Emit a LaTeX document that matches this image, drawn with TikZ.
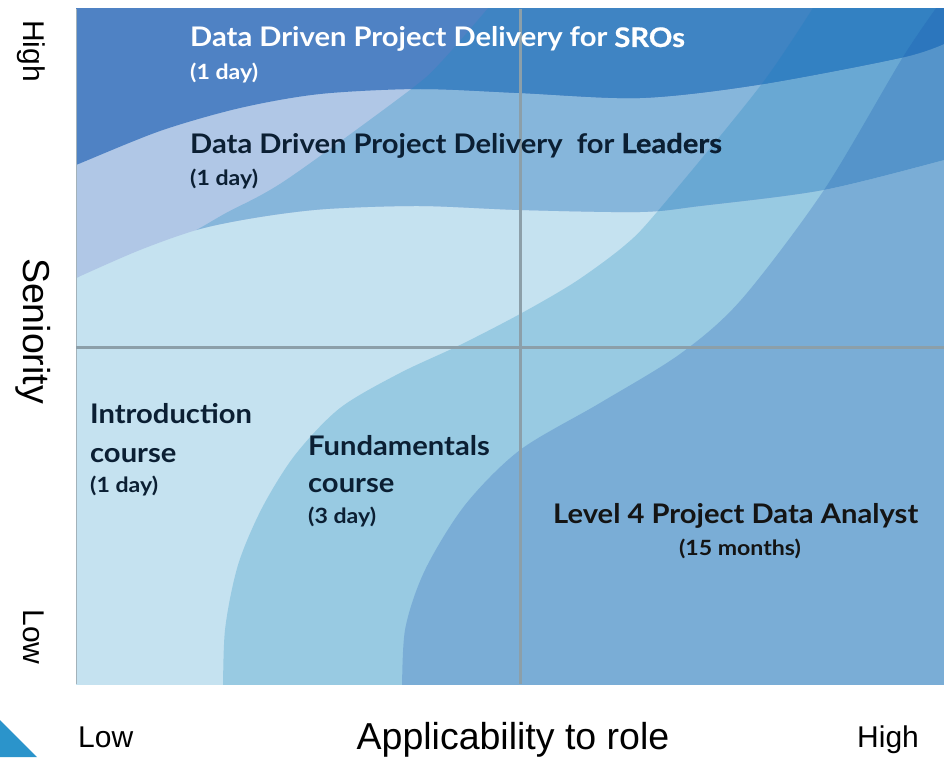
\documentclass[tikz,border=0pt]{standalone}
\usepackage{fontspec}
\setmainfont{Liberation Sans}
\newfontfamily\cf{Lato}[FakeStretch=1.08]
\newfontfamily\cfd{Lato}[FakeStretch=1.1]
\definecolor{cIntro}{HTML}{C5E2F0}
\definecolor{cFund}{HTML}{98CAE2}
\definecolor{cLev}{HTML}{7AADD6}
\definecolor{cLa}{HTML}{B0C7E6}
\definecolor{cLb}{HTML}{86B6DB}
\definecolor{cLc}{HTML}{69A8D3}
\definecolor{cLd}{HTML}{5594CA}
\definecolor{cSa}{HTML}{4F82C4}
\definecolor{cSb}{HTML}{3F84C3}
\definecolor{cSc}{HTML}{3381C2}
\definecolor{cSd}{HTML}{2C76BD}
\definecolor{cGrid}{HTML}{8C9FA9}
\definecolor{cTxt}{HTML}{0B1F33}
\definecolor{cTri}{HTML}{2B94CB}
\newcommand\RBpath{plot[smooth] coordinates {(70,281) (76,278) (176,240) (226,213) (286,180) (410,90) (443,60) (495,0)} -- (950,0) -- (950,700) -- (70,700) -- cycle}
\newcommand\RApath{plot[smooth] coordinates {(223,700) (225,630) (238,565) (262,508) (295,455) (340,408) (400,373) (460,345) (520,314) (575,282) (624,246) (657,212) (761,85) (818,0)} -- (950,0) -- (950,700) -- cycle}
\newcommand\RCpath{plot[smooth] coordinates {(402,700) (405,630) (425,570) (465,505) (520,450) (600,403) (680,354) (741,300) (824,190) (903,57) (942,0)} -- (950,0) -- (950,700) -- cycle}
\newcommand\LDpath{(70,0) -- plot[smooth] coordinates {(70,281) (76,278) (140,250) (200,229) (260,217) (326,209) (420,206) (520,210) (640,212) (700,206) (823,190) (944,160) (950,158)} -- (950,0) -- cycle}
\newcommand\Spath{(70,0) -- plot[smooth] coordinates {(70,167) (76,165) (160,131) (240,108) (320,94) (420,89) (520,93) (640,98) (757,85) (904,57) (950,41)} -- (950,0) -- cycle}
\begin{document}
\begin{tikzpicture}[x=1pt,y=-1pt,
  axislab/.style={font=\fontsize{30}{34}\selectfont, inner sep=0pt},
  bigaxis/.style={font=\fontsize{37.5}{40}\selectfont, inner sep=0pt},
  course/.style={font=\cf\bfseries\fontsize{27}{30}\selectfont, text=cTxt, inner sep=0pt, anchor=base west},
  dur/.style={font=\cfd\bfseries\fontsize{21}{24}\selectfont, text=cTxt, inner sep=0pt, anchor=base west},
  gridline/.style={draw=cGrid, line width=3pt}]
\useasboundingbox (0,0) rectangle (944,757);
\begin{scope}
  \clip (76,9) rectangle (944,684);
  \fill[cIntro] (70,0) rectangle (950,700);
  \fill[cFund] \RApath;
  \fill[cLev] \RCpath;
  \begin{scope}
    \clip \LDpath;
    \fill[cLa] (70,0) rectangle (950,700);
    \fill[cLb] \RBpath;
    \fill[cLc] \RApath;
    \fill[cLd] \RCpath;
  \end{scope}
  \begin{scope}
    \clip \Spath;
    \fill[cSa] (70,0) rectangle (950,700);
    \fill[cSb] \RBpath;
    \fill[cSc] \RApath;
    \fill[cSd] \RCpath;
  \end{scope}
\end{scope}
\draw[draw=cGrid!80, line width=1pt] (76.5,9) -- (76.5,684);
\coordinate (vt) at (520,9);
\coordinate (vb) at (520,684);
\coordinate (hl) at (76,347);
\coordinate (hr) at (944,347);
\draw[gridline] (vt) -- (vb);
\draw[gridline] (hl) -- (hr);
\fill[cTri] (0,720) -- (37,757) -- (0,757) -- cycle;
% texts
\node[course, text=white] (sro) at (190,47) {Data Driven Project Delivery for {\addfontfeature{FakeBold=0.6}SROs}};
\node[dur, text=white] (srod) at (190,80) {(1 day)};
\node[course] (lead) at (190,153) {Data Driven Project Delivery\ \ for {\addfontfeature{FakeBold=0.6}Leaders}};
\node[dur] (leadd) at (190,185) {(1 day)};
\node[course] (intro1) at (90,423) {Introduction};
\node[course] (intro2) at (90,462) {course};
\node[dur] (introd) at (90,492) {(1 day)};
\node[course] (fund1) at (308,455) {Fundamentals};
\node[course] (fund2) at (308,492) {course};
\node[dur] (fundd) at (308,523) {(3 day)};
\node[course, text=black!92] (lev) at (553,523) {Level 4 Project Data Analyst};
\node[dur, text=black!92, anchor=base] (levd) at (740,555) {(15 months)};
% axes
\node[axislab, rotate=-90, anchor=base] (yhigh) at (23,51) {High};
\node[bigaxis, rotate=-90, anchor=base] (ysen) at (23,331) {Seniority};
\node[axislab, rotate=-90, anchor=base] (ylow) at (23,637) {Low};
\node[axislab, anchor=base west] (xlow) at (78,747) {Low};
\node[bigaxis, anchor=base] (xapp) at (513,749) {Applicability to role};
\node[axislab, anchor=base west] (xhigh) at (857,747) {High};
\end{tikzpicture}
\end{document}
